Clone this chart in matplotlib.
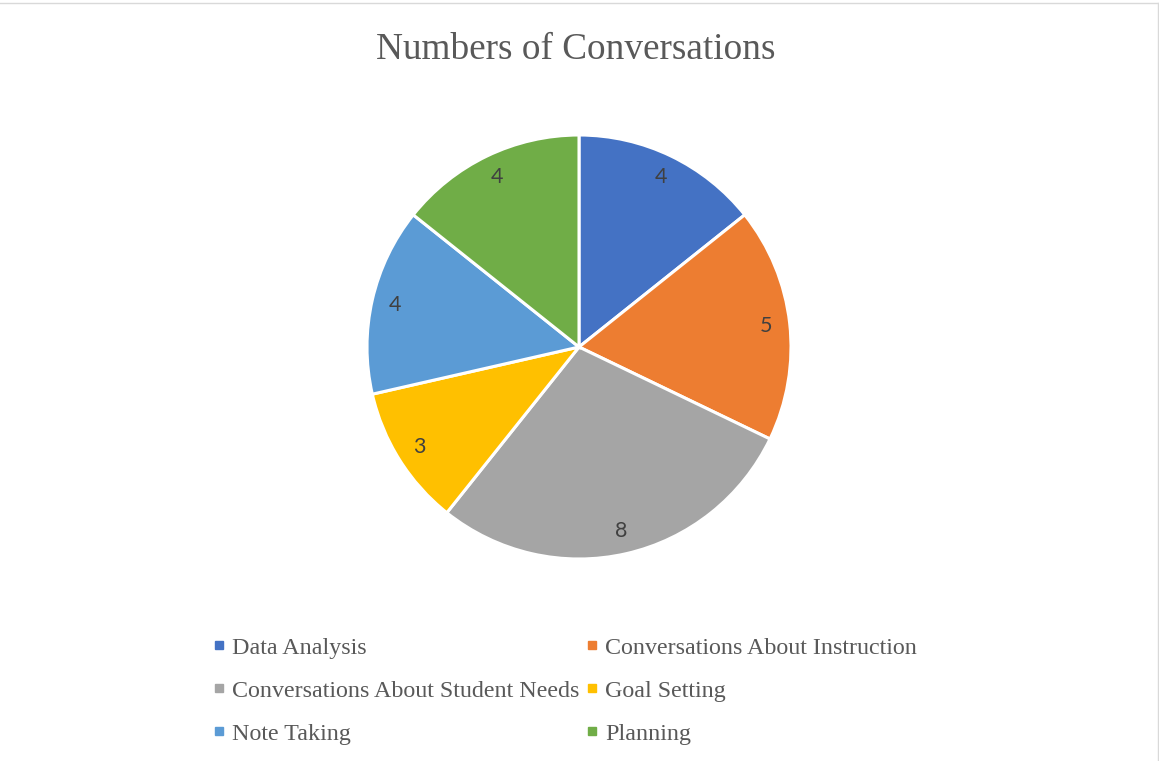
import matplotlib
matplotlib.use('Agg')
import matplotlib.pyplot as plt
from matplotlib.lines import Line2D

# Data
categories = ['Data Analysis', 'Conversations About Instruction',
              'Conversations About Student Needs', 'Goal Setting',
              'Note Taking', 'Planning']
counts = [4, 5, 8, 3, 4, 4]
colors = ['#4472C4', '#ED7D31', '#A5A5A5', '#FFC000', '#5B9BD5', '#70AD47']
title = 'Numbers of Conversations'

W, H = 1159, 761
fig = plt.figure(figsize=(W / 100, H / 100), dpi=100)

# pie centred at (579, 347) px, radius ~212 px
cx, cy, r = 579, 347, 212
ax = fig.add_axes([(cx - r) / W, (H - cy - r) / H, 2 * r / W, 2 * r / H])
total = sum(counts)
wedges, texts, autotexts = ax.pie(
    counts, colors=colors, startangle=90, counterclock=False, radius=1,
    autopct=lambda p: f'{round(p * total / 100):d}', pctdistance=0.89,
    wedgeprops=dict(edgecolor='white', linewidth=2.2),
    textprops=dict(family='Lato', fontsize=15.5, color='#404040'))
ax.set_xlim(-1, 1)
ax.set_ylim(-1, 1)
ax.set_aspect('equal')

fig.text(575.5 / W, 1 - 50 / H, title, ha='center', va='center',
         family='Liberation Serif', fontsize=26.8, color='#595959')

# legend, filled row by row like the original
handles = [Line2D([], [], marker='s', linestyle='none', markersize=6,
                  markerfacecolor=c, markeredgecolor=c) for c in colors]
order = [0, 2, 4, 1, 3, 5]
leg = fig.legend([handles[i] for i in order], [categories[i] for i in order],
                 ncol=2, loc='upper left', bbox_to_anchor=(200 / W, 1 - 625 / H),
                 frameon=False, prop=dict(family='Liberation Serif', size=17.3),
                 labelcolor='#595959', handlelength=0.6, handletextpad=0.25,
                 columnspacing=0.19, labelspacing=0.88, borderpad=0)

# light chart-area border (top and right only visible)
fig.add_artist(Line2D([0, 1157.5 / W], [1 - 2.5 / H] * 2, color='#D9D9D9', lw=1))
fig.add_artist(Line2D([1157.5 / W] * 2, [0, 1 - 2.5 / H], color='#D9D9D9', lw=1))

fig.savefig('out.png', dpi=100, facecolor='white')
